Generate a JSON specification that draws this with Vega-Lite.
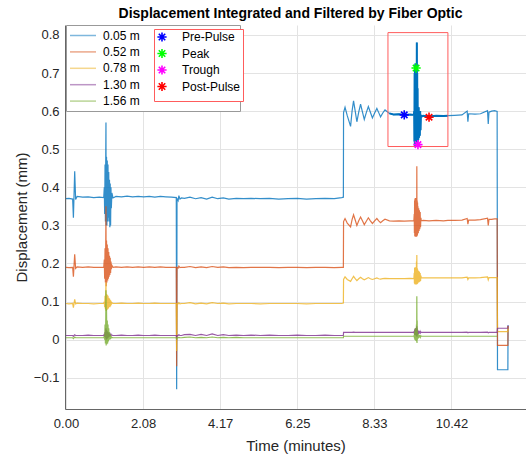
{
  "$schema": "https://vega.github.io/schema/vega-lite/v6.json",
  "width": 461,
  "height": 384,
  "autosize": {"type": "none"},
  "padding": {"left": 65, "top": 25, "right": 0, "bottom": 47},
  "background": "white",
  "config": {
    "font": "Liberation Sans",
    "view": {"stroke": null},
    "axis": {
      "grid": true,
      "gridColor": "#e3e3e3",
      "domainColor": "#666666",
      "ticks": false,
      "labelFlush": false,
      "labelFontSize": 13,
      "labelColor": "#262626",
      "titleFontSize": 15,
      "titleFontWeight": "normal",
      "titleColor": "#262626",
      "labelFont": "Liberation Sans",
      "titleFont": "Liberation Sans"
    }
  },
  "title": {
    "text": "Displacement Integrated and Filtered by Fiber Optic",
    "font": "Liberation Sans",
    "fontSize": 14,
    "fontWeight": "bold",
    "color": "black",
    "anchor": "middle",
    "offset": 4,
    "dx": -5
  },
  "datasets": {
    "main": [
      {"t": 0, "a": 0.370, "b": 0.190, "c": 0.095, "d": 0.011, "e": 0.005},
      {"t": 0.08, "a": 0.371, "b": 0.189, "c": 0.094, "d": 0.011, "e": 0.005},
      {"t": 0.18, "a": 0.369, "b": 0.190, "c": 0.095, "d": 0.011, "e": 0.005},
      {"t": 0.20, "a": 0.320, "b": 0.165, "c": 0.084, "d": 0.009, "e": 0.003},
      {"t": 0.235, "a": 0.442, "b": 0.224, "c": 0.106, "d": 0.013, "e": 0.007},
      {"t": 0.26, "a": 0.368, "b": 0.187, "c": 0.094, "d": 0.011, "e": 0.005},
      {"t": 0.30, "a": 0.376, "b": 0.191, "c": 0.096, "d": 0.011, "e": 0.005},
      {"t": 0.45, "a": 0.374, "b": 0.190, "c": 0.095, "d": 0.011, "e": 0.005},
      {"t": 0.60, "a": 0.375, "b": 0.191, "c": 0.095, "d": 0.012, "e": 0.005},
      {"t": 0.75, "a": 0.373, "b": 0.190, "c": 0.094, "d": 0.011, "e": 0.005},
      {"t": 0.90, "a": 0.374, "b": 0.190, "c": 0.095, "d": 0.011, "e": 0.005},
      {"t": 1.02, "a": 0.373, "b": 0.190, "c": 0.095, "d": 0.011, "e": 0.005},
      {"t": 1.035, "a": 0.40, "b": 0.21, "c": 0.100, "d": 0.015, "e": 0.010},
      {"t": 1.045, "a": 0.33, "b": 0.16, "c": 0.085, "d": 0.008, "e": 0.000},
      {"t": 1.055, "a": 0.46, "b": 0.24, "c": 0.115, "d": 0.020, "e": 0.040},
      {"t": 1.065, "a": 0.31, "b": 0.15, "c": 0.080, "d": 0.005, "e": -0.010},
      {"t": 1.075, "a": 0.50, "b": 0.27, "c": 0.125, "d": 0.025, "e": 0.060},
      {"t": 1.080, "a": 0.57, "b": 0.35, "c": 0.150, "d": 0.030, "e": 0.130},
      {"t": 1.085, "a": 0.30, "b": 0.14, "c": 0.075, "d": 0.000, "e": -0.015},
      {"t": 1.095, "a": 0.48, "b": 0.26, "c": 0.120, "d": 0.025, "e": 0.080},
      {"t": 1.105, "a": 0.30, "b": 0.15, "c": 0.078, "d": 0.002, "e": -0.012},
      {"t": 1.115, "a": 0.47, "b": 0.25, "c": 0.118, "d": 0.022, "e": 0.050},
      {"t": 1.125, "a": 0.31, "b": 0.155, "c": 0.080, "d": 0.004, "e": -0.010},
      {"t": 1.135, "a": 0.46, "b": 0.24, "c": 0.115, "d": 0.020, "e": 0.040},
      {"t": 1.145, "a": 0.32, "b": 0.16, "c": 0.082, "d": 0.006, "e": -0.005},
      {"t": 1.155, "a": 0.44, "b": 0.23, "c": 0.110, "d": 0.018, "e": 0.030},
      {"t": 1.165, "a": 0.31, "b": 0.165, "c": 0.085, "d": 0.008, "e": 0.000},
      {"t": 1.175, "a": 0.42, "b": 0.22, "c": 0.108, "d": 0.016, "e": 0.020},
      {"t": 1.185, "a": 0.295, "b": 0.17, "c": 0.085, "d": 0.008, "e": 0.000},
      {"t": 1.195, "a": 0.41, "b": 0.215, "c": 0.105, "d": 0.015, "e": 0.015},
      {"t": 1.205, "a": 0.30, "b": 0.175, "c": 0.088, "d": 0.010, "e": 0.002},
      {"t": 1.215, "a": 0.40, "b": 0.205, "c": 0.102, "d": 0.014, "e": 0.010},
      {"t": 1.225, "a": 0.345, "b": 0.185, "c": 0.092, "d": 0.012, "e": 0.005},
      {"t": 1.24, "a": 0.385, "b": 0.195, "c": 0.097, "d": 0.012, "e": 0.006},
      {"t": 1.27, "a": 0.372, "b": 0.190, "c": 0.095, "d": 0.011, "e": 0.005},
      {"t": 1.35, "a": 0.376, "b": 0.191, "c": 0.095, "d": 0.011, "e": 0.005},
      {"t": 1.50, "a": 0.375, "b": 0.190, "c": 0.096, "d": 0.012, "e": 0.005},
      {"t": 1.65, "a": 0.377, "b": 0.191, "c": 0.095, "d": 0.011, "e": 0.005},
      {"t": 1.80, "a": 0.375, "b": 0.190, "c": 0.095, "d": 0.011, "e": 0.005},
      {"t": 1.95, "a": 0.376, "b": 0.191, "c": 0.096, "d": 0.012, "e": 0.005},
      {"t": 2.10, "a": 0.375, "b": 0.190, "c": 0.095, "d": 0.011, "e": 0.005},
      {"t": 2.25, "a": 0.376, "b": 0.191, "c": 0.095, "d": 0.011, "e": 0.005},
      {"t": 2.40, "a": 0.374, "b": 0.190, "c": 0.096, "d": 0.012, "e": 0.005},
      {"t": 2.55, "a": 0.376, "b": 0.191, "c": 0.095, "d": 0.011, "e": 0.005},
      {"t": 2.70, "a": 0.375, "b": 0.190, "c": 0.095, "d": 0.011, "e": 0.005},
      {"t": 2.85, "a": 0.374, "b": 0.190, "c": 0.095, "d": 0.011, "e": 0.005},
      {"t": 2.98, "a": 0.373, "b": 0.190, "c": 0.095, "d": 0.011, "e": 0.005},
      {"t": 2.99, "a": -0.13, "b": -0.07, "c": -0.03, "d": 0.004, "e": 0.000},
      {"t": 3.00, "a": 0.370, "b": 0.190, "c": 0.095, "d": 0.011, "e": 0.005},
      {"t": 3.03, "a": 0.365, "b": 0.188, "c": 0.094, "d": 0.011, "e": 0.005},
      {"t": 3.05, "a": 0.378, "b": 0.193, "c": 0.097, "d": 0.013, "e": 0.006},
      {"t": 3.08, "a": 0.369, "b": 0.189, "c": 0.094, "d": 0.011, "e": 0.005},
      {"t": 3.12, "a": 0.372, "b": 0.190, "c": 0.095, "d": 0.011, "e": 0.005},
      {"t": 3.20, "a": 0.371, "b": 0.190, "c": 0.095, "d": 0.013, "e": 0.006},
      {"t": 3.35, "a": 0.374, "b": 0.192, "c": 0.097, "d": 0.014, "e": 0.007},
      {"t": 3.50, "a": 0.370, "b": 0.189, "c": 0.094, "d": 0.011, "e": 0.005},
      {"t": 3.65, "a": 0.373, "b": 0.191, "c": 0.096, "d": 0.014, "e": 0.006},
      {"t": 3.80, "a": 0.369, "b": 0.189, "c": 0.094, "d": 0.011, "e": 0.005},
      {"t": 3.95, "a": 0.374, "b": 0.192, "c": 0.097, "d": 0.015, "e": 0.007},
      {"t": 4.10, "a": 0.370, "b": 0.190, "c": 0.095, "d": 0.011, "e": 0.005},
      {"t": 4.25, "a": 0.372, "b": 0.191, "c": 0.096, "d": 0.013, "e": 0.006},
      {"t": 4.40, "a": 0.369, "b": 0.189, "c": 0.094, "d": 0.011, "e": 0.005},
      {"t": 4.60, "a": 0.371, "b": 0.190, "c": 0.095, "d": 0.012, "e": 0.006},
      {"t": 4.80, "a": 0.370, "b": 0.189, "c": 0.095, "d": 0.011, "e": 0.005},
      {"t": 5.00, "a": 0.371, "b": 0.190, "c": 0.095, "d": 0.012, "e": 0.005},
      {"t": 5.25, "a": 0.370, "b": 0.190, "c": 0.094, "d": 0.011, "e": 0.005},
      {"t": 5.50, "a": 0.371, "b": 0.190, "c": 0.095, "d": 0.012, "e": 0.005},
      {"t": 5.75, "a": 0.369, "b": 0.189, "c": 0.095, "d": 0.011, "e": 0.005},
      {"t": 6.00, "a": 0.370, "b": 0.190, "c": 0.095, "d": 0.011, "e": 0.005},
      {"t": 6.25, "a": 0.371, "b": 0.190, "c": 0.095, "d": 0.012, "e": 0.005},
      {"t": 6.50, "a": 0.369, "b": 0.189, "c": 0.094, "d": 0.011, "e": 0.005},
      {"t": 6.75, "a": 0.370, "b": 0.190, "c": 0.095, "d": 0.011, "e": 0.005},
      {"t": 7.00, "a": 0.371, "b": 0.190, "c": 0.095, "d": 0.012, "e": 0.005},
      {"t": 7.25, "a": 0.370, "b": 0.189, "c": 0.095, "d": 0.011, "e": 0.005},
      {"t": 7.45, "a": 0.373, "b": 0.190, "c": 0.095, "d": 0.011, "e": 0.005},
      {"t": 7.495, "a": 0.374, "b": 0.190, "c": 0.096, "d": 0.011, "e": 0.005},
      {"t": 7.50, "a": 0.596, "b": 0.310, "c": 0.158, "d": 0.019, "e": 0.009},
      {"t": 7.54, "a": 0.610, "b": 0.318, "c": 0.165, "d": 0.019, "e": 0.009},
      {"t": 7.60, "a": 0.588, "b": 0.306, "c": 0.158, "d": 0.019, "e": 0.009},
      {"t": 7.69, "a": 0.560, "b": 0.296, "c": 0.153, "d": 0.019, "e": 0.009},
      {"t": 7.73, "a": 0.600, "b": 0.315, "c": 0.160, "d": 0.019, "e": 0.009},
      {"t": 7.77, "a": 0.627, "b": 0.328, "c": 0.166, "d": 0.020, "e": 0.009},
      {"t": 7.815, "a": 0.600, "b": 0.314, "c": 0.160, "d": 0.019, "e": 0.009},
      {"t": 7.86, "a": 0.572, "b": 0.300, "c": 0.155, "d": 0.019, "e": 0.009},
      {"t": 7.91, "a": 0.597, "b": 0.312, "c": 0.160, "d": 0.019, "e": 0.009},
      {"t": 7.96, "a": 0.618, "b": 0.322, "c": 0.164, "d": 0.019, "e": 0.009},
      {"t": 8.01, "a": 0.598, "b": 0.312, "c": 0.160, "d": 0.019, "e": 0.009},
      {"t": 8.06, "a": 0.578, "b": 0.302, "c": 0.157, "d": 0.019, "e": 0.009},
      {"t": 8.115, "a": 0.596, "b": 0.311, "c": 0.160, "d": 0.019, "e": 0.009},
      {"t": 8.17, "a": 0.612, "b": 0.320, "c": 0.163, "d": 0.019, "e": 0.009},
      {"t": 8.225, "a": 0.597, "b": 0.312, "c": 0.160, "d": 0.019, "e": 0.009},
      {"t": 8.28, "a": 0.582, "b": 0.305, "c": 0.158, "d": 0.019, "e": 0.009},
      {"t": 8.34, "a": 0.595, "b": 0.312, "c": 0.160, "d": 0.019, "e": 0.009},
      {"t": 8.40, "a": 0.607, "b": 0.318, "c": 0.162, "d": 0.019, "e": 0.009},
      {"t": 8.45, "a": 0.596, "b": 0.312, "c": 0.160, "d": 0.019, "e": 0.009},
      {"t": 8.50, "a": 0.585, "b": 0.307, "c": 0.159, "d": 0.019, "e": 0.009},
      {"t": 8.56, "a": 0.595, "b": 0.312, "c": 0.160, "d": 0.019, "e": 0.009},
      {"t": 8.62, "a": 0.603, "b": 0.316, "c": 0.161, "d": 0.019, "e": 0.009},
      {"t": 8.74, "a": 0.594, "b": 0.312, "c": 0.160, "d": 0.019, "e": 0.009, "f": 0.594},
      {"t": 8.85, "a": 0.591, "b": 0.311, "c": 0.160, "d": 0.019, "e": 0.009, "f": 0.591},
      {"t": 9.00, "a": 0.592, "b": 0.312, "c": 0.160, "d": 0.019, "e": 0.009, "f": 0.592},
      {"t": 9.14, "a": 0.590, "b": 0.311, "c": 0.160, "d": 0.019, "e": 0.009, "f": 0.590},
      {"t": 9.30, "a": 0.591, "b": 0.312, "c": 0.161, "d": 0.019, "e": 0.009, "f": 0.591},
      {"t": 9.40, "a": 0.590, "b": 0.312, "c": 0.160, "d": 0.019, "e": 0.009, "f": 0.590},
      {"t": 9.410, "a": 0.600, "b": 0.330, "c": 0.175, "d": 0.022, "e": 0.012, "f": 0.600},
      {"t": 9.415, "a": 0.520, "b": 0.280, "c": 0.148, "d": 0.014, "e": 0.004, "f": 0.520},
      {"t": 9.420, "a": 0.700, "b": 0.365, "c": 0.188, "d": 0.026, "e": 0.020, "f": 0.700},
      {"t": 9.425, "a": 0.510, "b": 0.272, "c": 0.146, "d": 0.012, "e": 0.000, "f": 0.510},
      {"t": 9.430, "a": 0.720, "b": 0.370, "c": 0.190, "d": 0.028, "e": 0.025, "f": 0.720},
      {"t": 9.435, "a": 0.507, "b": 0.270, "c": 0.145, "d": 0.012, "e": 0.000, "f": 0.507},
      {"t": 9.440, "a": 0.725, "b": 0.372, "c": 0.190, "d": 0.030, "e": 0.030, "f": 0.725},
      {"t": 9.445, "a": 0.510, "b": 0.271, "c": 0.146, "d": 0.012, "e": -0.002, "f": 0.510},
      {"t": 9.450, "a": 0.720, "b": 0.370, "c": 0.189, "d": 0.028, "e": 0.025, "f": 0.720},
      {"t": 9.455, "a": 0.508, "b": 0.270, "c": 0.145, "d": 0.011, "e": -0.003, "f": 0.508},
      {"t": 9.460, "a": 0.713, "b": 0.368, "c": 0.190, "d": 0.030, "e": 0.030, "f": 0.713},
      {"t": 9.465, "a": 0.510, "b": 0.272, "c": 0.146, "d": 0.012, "e": 0.000, "f": 0.510},
      {"t": 9.470, "a": 0.720, "b": 0.372, "c": 0.205, "d": 0.032, "e": 0.040, "f": 0.720},
      {"t": 9.475, "a": 0.510, "b": 0.270, "c": 0.145, "d": 0.010, "e": -0.005, "f": 0.510},
      {"t": 9.480, "a": 0.780, "b": 0.455, "c": 0.222, "d": 0.035, "e": 0.114, "f": 0.780},
      {"t": 9.485, "a": 0.515, "b": 0.272, "c": 0.146, "d": 0.008, "e": -0.009, "f": 0.515},
      {"t": 9.490, "a": 0.700, "b": 0.365, "c": 0.188, "d": 0.030, "e": 0.050, "f": 0.700},
      {"t": 9.495, "a": 0.510, "b": 0.274, "c": 0.147, "d": 0.012, "e": 0.000, "f": 0.510},
      {"t": 9.500, "a": 0.660, "b": 0.360, "c": 0.185, "d": 0.026, "e": 0.020, "f": 0.660},
      {"t": 9.505, "a": 0.520, "b": 0.278, "c": 0.148, "d": 0.014, "e": 0.002, "f": 0.520},
      {"t": 9.510, "a": 0.610, "b": 0.350, "c": 0.182, "d": 0.024, "e": 0.015, "f": 0.610},
      {"t": 9.520, "a": 0.525, "b": 0.280, "c": 0.150, "d": 0.015, "e": 0.004, "f": 0.525},
      {"t": 9.530, "a": 0.610, "b": 0.345, "c": 0.180, "d": 0.023, "e": 0.014, "f": 0.610},
      {"t": 9.540, "a": 0.530, "b": 0.285, "c": 0.151, "d": 0.016, "e": 0.005, "f": 0.530},
      {"t": 9.550, "a": 0.600, "b": 0.340, "c": 0.178, "d": 0.022, "e": 0.012, "f": 0.600},
      {"t": 9.560, "a": 0.535, "b": 0.290, "c": 0.152, "d": 0.017, "e": 0.006, "f": 0.535},
      {"t": 9.570, "a": 0.600, "b": 0.335, "c": 0.175, "d": 0.021, "e": 0.011, "f": 0.600},
      {"t": 9.580, "a": 0.550, "b": 0.295, "c": 0.154, "d": 0.018, "e": 0.007, "f": 0.550},
      {"t": 9.590, "a": 0.590, "b": 0.320, "c": 0.168, "d": 0.020, "e": 0.010, "f": 0.590},
      {"t": 9.600, "a": 0.585, "b": 0.312, "c": 0.162, "d": 0.019, "e": 0.009, "f": 0.585},
      {"t": 9.65, "a": 0.588, "b": 0.313, "c": 0.162, "d": 0.019, "e": 0.009, "f": 0.588},
      {"t": 9.81, "a": 0.586, "b": 0.312, "c": 0.162, "d": 0.019, "e": 0.009, "f": 0.586},
      {"t": 10.00, "a": 0.588, "b": 0.313, "c": 0.162, "d": 0.019, "e": 0.009, "f": 0.588},
      {"t": 10.20, "a": 0.587, "b": 0.312, "c": 0.162, "d": 0.019, "e": 0.009, "f": 0.587},
      {"t": 10.32, "a": 0.588, "b": 0.313, "c": 0.162, "d": 0.019, "e": 0.009, "f": 0.588},
      {"t": 10.50, "a": 0.589, "b": 0.313, "c": 0.162, "d": 0.019, "e": 0.009},
      {"t": 10.70, "a": 0.590, "b": 0.314, "c": 0.162, "d": 0.019, "e": 0.009},
      {"t": 10.84, "a": 0.600, "b": 0.318, "c": 0.164, "d": 0.020, "e": 0.009},
      {"t": 10.86, "a": 0.572, "b": 0.303, "c": 0.158, "d": 0.018, "e": 0.009},
      {"t": 10.88, "a": 0.593, "b": 0.314, "c": 0.162, "d": 0.019, "e": 0.009},
      {"t": 11.05, "a": 0.592, "b": 0.314, "c": 0.162, "d": 0.019, "e": 0.009},
      {"t": 11.20, "a": 0.593, "b": 0.315, "c": 0.163, "d": 0.019, "e": 0.009},
      {"t": 11.39, "a": 0.601, "b": 0.319, "c": 0.165, "d": 0.020, "e": 0.009},
      {"t": 11.41, "a": 0.566, "b": 0.300, "c": 0.157, "d": 0.018, "e": 0.009},
      {"t": 11.43, "a": 0.597, "b": 0.316, "c": 0.163, "d": 0.019, "e": 0.009},
      {"t": 11.50, "a": 0.600, "b": 0.316, "c": 0.163, "d": 0.019, "e": 0.009},
      {"t": 11.58, "a": 0.601, "b": 0.317, "c": 0.163, "d": 0.019, "e": 0.009},
      {"t": 11.65, "a": 0.599, "b": 0.317, "c": 0.163, "d": 0.019, "e": 0.009},
      {"t": 11.66, "a": -0.079, "b": -0.015, "c": 0.021, "d": 0.030},
      {"t": 11.94, "a": -0.079, "b": -0.015, "c": 0.021, "d": 0.030},
      {"t": 11.945, "a": 0.038, "b": 0.036, "c": 0.036, "d": 0.037}
    ],
    "markers": [
      {"m": "Pre-Pulse", "t": 9.14, "v": 0.590},
      {"m": "Peak", "t": 9.46, "v": 0.713},
      {"m": "Trough", "t": 9.51, "v": 0.512},
      {"m": "Post-Pulse", "t": 9.81, "v": 0.584}
    ],
    "box": [
      {"t": 8.70, "t2": 10.32, "v": 0.507, "v2": 0.806}
    ]
  },
  "data": {"name": "main"},
  "layer": [
    {
      "transform": [
        {"fold": ["a", "b", "c", "d", "e"], "as": ["s", "v"]},
        {"filter": "isValid(datum.v)"}
      ],
      "mark": {"type": "line", "strokeWidth": 1.2, "opacity": 0.8, "clip": true},
      "encoding": {
        "x": {
          "field": "t", "type": "quantitative",
          "scale": {"domain": [-0.027, 12.43], "nice": false, "zero": false},
          "axis": {
            "title": "Time (minutes)",
            "values": [0, 2.083333, 4.166667, 6.25, 8.333333, 10.416667],
            "format": ".2f",
            "labelPadding": 8,
            "titlePadding": 8
          }
        },
        "y": {
          "field": "v", "type": "quantitative",
          "scale": {"domain": [-0.182, 0.826], "nice": false, "zero": false},
          "axis": {
            "title": "Displacement (mm)",
            "values": [-0.1, 0, 0.1, 0.2, 0.3, 0.4, 0.5, 0.6, 0.7, 0.8],
            "labelExpr": "datum.value == 0 ? '0' : format(datum.value, '.1f')",
            "labelPadding": 6,
            "titlePadding": 4
          }
        },
        "color": {
          "field": "s", "type": "nominal",
          "scale": {"domain": ["a", "b", "c", "d", "e"], "range": ["#0072BD", "#D95319", "#EDB120", "#7E2F8E", "#77AC30"]},
          "legend": {
            "orient": "none",
            "legendX": 1,
            "legendY": 0,
            "title": null,
            "symbolType": "M-2,0L2,0",
            "symbolSize": 169,
            "symbolOffset": 6.5,
            "symbolStrokeWidth": 1.5,
            "symbolOpacity": 0.5,
            "labelFontSize": 12,
            "labelFont": "Liberation Sans",
            "labelColor": "#000000",
            "labelOffset": 12.5,
            "labelLimit": 400,
            "padding": 3,
            "rowPadding": 2.4,
            "strokeColor": "#999999",
            "fillColor": "white",
            "zindex": 1,
            "labelExpr": "(datum.label == 'a' ? '0.05 m' : datum.label == 'b' ? '0.52 m' : datum.label == 'c' ? '0.78 m' : datum.label == 'd' ? '1.30 m' : '1.56 m') + '\u00a0\u00a0\u00a0\u00a0\u00a0\u00a0\u00a0\u00a0\u00a0\u00a0\u00a0\u00a0\u00a0\u00a0\u00a0\u00a0\u00a0\u00a0\u00a0\u00a0\u00a0\u00a0\u00a0\u00a0\u00a0\u00a0\u00a0\u00a0\u00a0\u200b'"
          }
        }
      }
    },
    {
      "transform": [
        {"fold": ["f"], "as": ["s2", "v"]},
        {"filter": "isValid(datum.v)"}
      ],
      "mark": {"type": "line", "strokeWidth": 2, "color": "#0072BD", "clip": true},
      "encoding": {
        "x": {"field": "t", "type": "quantitative", "scale": {"domain": [-0.027, 12.43], "nice": false, "zero": false}},
        "y": {"field": "v", "type": "quantitative", "scale": {"domain": [-0.182, 0.826], "nice": false, "zero": false}}
      }
    },
    {
      "data": {"name": "box"},
      "mark": {"type": "rect", "filled": false, "stroke": "#ff5c5c", "strokeWidth": 1, "clip": true},
      "encoding": {
        "x": {"field": "t", "type": "quantitative", "scale": {"domain": [-0.027, 12.43], "nice": false, "zero": false}},
        "x2": {"field": "t2"},
        "y": {"field": "v", "type": "quantitative", "scale": {"domain": [-0.182, 0.826], "nice": false, "zero": false}},
        "y2": {"field": "v2"}
      }
    },
    {
      "data": {"name": "markers"},
      "mark": {
        "type": "point",
        "shape": "M-1,0L1,0M0,-1L0,1M-0.7,-0.7L0.7,0.7M-0.7,0.7L0.7,-0.7",
        "size": 85,
        "strokeWidth": 1.6,
        "filled": false,
        "opacity": 1,
        "clip": true
      },
      "encoding": {
        "x": {"field": "t", "type": "quantitative", "scale": {"domain": [-0.027, 12.43], "nice": false, "zero": false}},
        "y": {"field": "v", "type": "quantitative", "scale": {"domain": [-0.182, 0.826], "nice": false, "zero": false}},
        "stroke": {
          "field": "m", "type": "nominal",
          "scale": {"domain": ["Pre-Pulse", "Peak", "Trough", "Post-Pulse"], "range": ["#0000ff", "#00ff00", "#ff00ff", "#ff0000"]},
          "legend": {
            "orient": "none",
            "legendX": 89,
            "legendY": 4,
            "title": "\u00a0\u200b",
            "titleOrient": "bottom",
            "titleFontSize": 5,
            "titlePadding": 0,
            "symbolType": "M-1,0L1,0M0,-1L0,1M-0.7,-0.7L0.7,0.7M-0.7,0.7L0.7,-0.7",
            "symbolSize": 85,
            "symbolStrokeWidth": 1.6,
            "symbolOpacity": 1,
            "labelFontSize": 12,
            "labelFont": "Liberation Sans",
            "labelColor": "#000000",
            "labelOffset": 14,
            "padding": 2,
            "rowPadding": 0.5,
            "strokeColor": "#ff5c5c",
            "fillColor": "white",
            "zindex": 2
          }
        }
      }
    }
  ]
}
